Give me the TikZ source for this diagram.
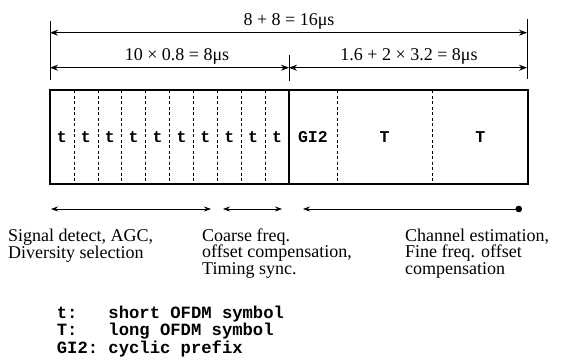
\documentclass[tikz,border=0pt]{standalone}
\usepackage{fontspec}
\setmainfont{Liberation Serif}
\setmonofont{Liberation Mono}
\usetikzlibrary{arrows.meta}

\begin{document}
\begin{tikzpicture}[x=1pt, y=-1pt, >={Stealth[length=8pt,width=6pt]},
    frame/.style={line width=1.8pt},
    divider/.style={line width=0.6pt, dash pattern=on 3pt off 2.5pt},
    tick/.style={line width=1pt},
    dimline/.style={<->, line width=0.7pt},
    usearrow/.style={line width=0.7pt, >={Stealth[length=7pt,width=5pt]}},
    symb/.style={font=\fontsize{16.5}{16.5}\selectfont\ttfamily\bfseries, inner sep=0pt},
    dimlabel/.style={font=\fontsize{18}{18}\selectfont, anchor=base, inner sep=0pt},
    usage/.style={font=\fontsize{18}{16.6}\selectfont, align=left, anchor=base west, inner sep=0pt}]
    \useasboundingbox (0,0) rectangle (563,364);

    % preamble frame
    \coordinate (ftl) at (50,90);
    \coordinate (fbr) at (528,184);
    \coordinate (mtop) at (289,90);
    \coordinate (mbot) at (289,184);
    \draw[frame] (ftl) rectangle (fbr);
    \draw[frame] (mtop) -- (mbot);

    \foreach \i in {1,...,9}
        \draw[divider] ({50+23.9*\i},90) -- ++(0,94);
    \draw[divider] (336.8,90) -- (336.8,184);
    \draw[divider] (432.4,90) -- (432.4,184);

    \foreach \i in {0,...,9}
        \node[symb] (t\i) at ({61.95+23.9*\i},137) {t};
    \node[symb] (gi) at (312.9,137) {GI2};
    \node[symb] (lt1) at (384.6,137) {T};
    \node[symb] (lt2) at (480.2,137) {T};

    % dimension lines
    \coordinate (lt) at (50,21);   \coordinate (lb) at (50,80);
    \coordinate (rt) at (527,19);  \coordinate (rb) at (527,79);
    \coordinate (ct) at (289,55);  \coordinate (cb) at (289,81);
    \draw[tick] (lt) -- (lb);
    \draw[tick] (rt) -- (rb);
    \draw[tick] (ct) -- (cb);

    \coordinate (d1l) at (50,32.7);  \coordinate (d1r) at (527,32.7);
    \coordinate (d2l) at (50,67.7);  \coordinate (d2m) at (289,67.7);
    \coordinate (d2r) at (527,67.7);
    \draw[dimline] (d1l) -- (d1r);
    \draw[dimline] (d2l) -- (d2m);
    \draw[dimline] (d2m) -- (d2r);

    \node[dimlabel] (total) at (289,25) {8 + 8 = 16μs};
    \node[dimlabel] (short) at (177,60) {10 × 0.8 = 8μs};
    \node[dimlabel] (long) at (409,60) {1.6 + 2 × 3.2 = 8μs};

    % what each part is used for
    \coordinate (u1l) at (51,209);  \coordinate (u1r) at (211,209);
    \coordinate (u2l) at (223,209); \coordinate (u2r) at (282,209);
    \coordinate (u3l) at (303,209); \coordinate (u3r) at (522,209);
    \draw[usearrow, <->] (u1l) -- (u1r);
    \draw[usearrow, <->] (u2l) -- (u2r);
    \draw[usearrow, {Stealth[length=7pt,width=5pt]}-{Circle[length=6.5pt]}] (u3l) -- (u3r);

    % base of a multi-line node is its last line
    \node[usage] (detect) at (8,258) {Signal detect, AGC,\\Diversity selection};
    \node[usage] (coarse) at (202,274.5) {Coarse freq.\\offset compensation,\\Timing sync.};
    \node[usage] (channel) at (405,274.5) {Channel estimation,\\Fine freq. offset\\compensation};

    % legend
    \node[font=\fontsize{17.2}{15}\selectfont\ttfamily\bfseries, align=left,
        anchor=base west, inner sep=0pt] (legend) at (56.7,353)
        {t:~~~short OFDM symbol\\T:~~~long OFDM symbol\\GI2:~cyclic prefix};
\end{tikzpicture}
\end{document}
